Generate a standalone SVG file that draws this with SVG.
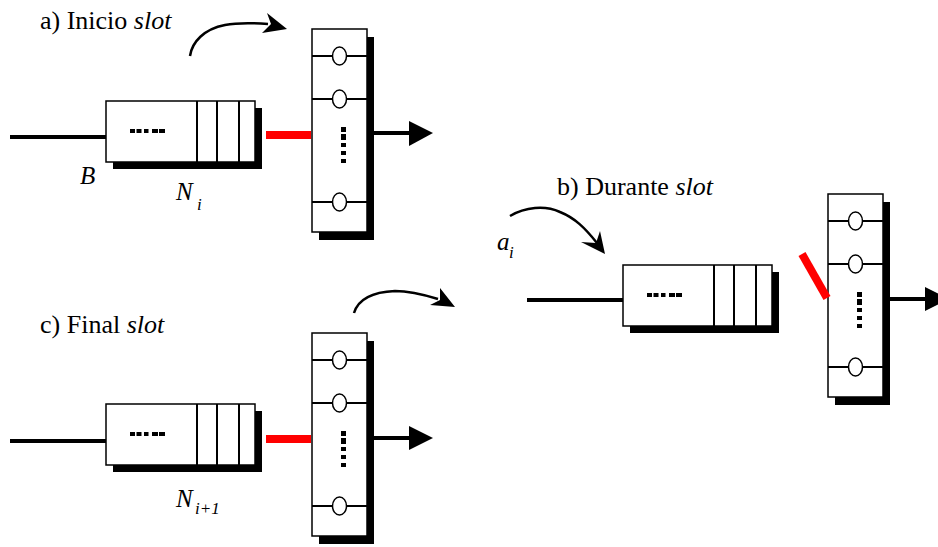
<svg xmlns="http://www.w3.org/2000/svg" width="938" height="547" viewBox="0 0 938 547">
<style>
.box{fill:#fff;stroke:#000;stroke-width:1.5}
.shadow{fill:#000}
.thin{stroke:#000;stroke-width:2;fill:none}
.wire{stroke:#000;stroke-width:4;fill:none}
.red{stroke:#f00;stroke-width:8;fill:none}
.curve{stroke:#000;stroke-width:2.5;fill:none}
</style>
<defs>
<g id="queue">
<rect class="shadow" x="7" y="7" width="149" height="61"/>
<rect class="box" x="0" y="0" width="149" height="61"/>
<line class="thin" x1="91" y1="0" x2="91" y2="61"/>
<line class="thin" x1="111" y1="0" x2="111" y2="61"/>
<line class="thin" x1="133" y1="0" x2="133" y2="61"/>
<rect x="24" y="28" width="5" height="4"/>
<rect x="30.5" y="28" width="5" height="4"/>
<rect x="38" y="28" width="4.5" height="4"/>
<rect x="46" y="28" width="6" height="4"/>
<rect x="53" y="28" width="6" height="4"/>
</g>
<g id="server">
<rect class="shadow" x="7" y="8" width="55" height="203"/>
<rect class="box" x="0" y="0" width="55" height="203"/>
<line class="thin" x1="0" y1="27" x2="55" y2="27"/>
<line class="thin" x1="0" y1="70" x2="55" y2="70"/>
<line class="thin" x1="0" y1="173" x2="55" y2="173"/>
<ellipse cx="27.5" cy="27" rx="7" ry="9" fill="#fff" stroke="#000" stroke-width="1.5"/>
<ellipse cx="27.5" cy="70" rx="7" ry="9" fill="#fff" stroke="#000" stroke-width="1.5"/>
<ellipse cx="27.5" cy="173" rx="7" ry="9" fill="#fff" stroke="#000" stroke-width="1.5"/>
<rect x="29" y="98" width="5" height="5"/>
<rect x="29" y="105" width="5" height="6"/>
<rect x="29" y="114" width="5" height="4"/>
<rect x="29" y="122" width="5" height="4"/>
<rect x="29" y="130" width="5" height="4"/>
</g>
</defs>

<g id="labels" font-family="Liberation Serif, Times New Roman, serif" fill="#000">
<text x="40" y="29" font-size="26">a) Inicio <tspan font-style="italic">slot</tspan></text>
<text x="80" y="184" font-size="25" font-style="italic">B</text>
<text x="176" y="200" font-size="25" font-style="italic">N</text>
<text x="197" y="210" font-size="17" font-style="italic">i</text>
<text x="557" y="195" font-size="26">b) Durante <tspan font-style="italic">slot</tspan></text>
<text x="497" y="250" font-size="25" font-style="italic">a</text>
<text x="509" y="258" font-size="17" font-style="italic">i</text>
<text x="40" y="333" font-size="26">c) Final <tspan font-style="italic">slot</tspan></text>
<text x="176" y="507" font-size="25" font-style="italic">N</text>
<text x="195" y="514" font-size="17" font-style="italic">i+1</text>
</g>

<g id="queue-a"><use href="#queue" x="106" y="101"/></g>
<g id="server-a"><use href="#server" x="312" y="29"/></g>
<g id="queue-b"><use href="#queue" x="623" y="265"/></g>
<g id="server-b"><use href="#server" x="828" y="194"/></g>
<g id="queue-c"><use href="#queue" x="106" y="404"/></g>
<g id="server-c"><use href="#server" x="312" y="333"/></g>

<g id="connectors">
<line class="wire" x1="10" y1="137" x2="106" y2="137"/>
<line class="red" x1="266" y1="135" x2="311" y2="135"/>
<line class="wire" x1="374" y1="133" x2="411" y2="133"/>
<polygon points="409,121 433,133 409,146"/>
<path class="curve" d="M190,56 C192,42 204,29 225,25 C240,22 255,23 268,24"/>
<polygon points="287,29 267,13 271,24 262,33"/>

<line class="wire" x1="527" y1="300" x2="623" y2="300"/>
<line class="red" x1="802" y1="254" x2="827" y2="298"/>
<line class="wire" x1="890" y1="299" x2="927" y2="299"/>
<polygon points="925,287 949,299 925,311"/>
<path class="curve" d="M510,216 C525,207 545,205 560,212 C575,218 585,228 597,243"/>
<polygon points="605,254 581,242 596,243 600,231"/>

<line class="wire" x1="10" y1="441" x2="106" y2="441"/>
<line class="red" x1="266" y1="439" x2="311" y2="439"/>
<line class="wire" x1="374" y1="438" x2="411" y2="438"/>
<polygon points="409,426 433,438 409,450"/>
<path class="curve" d="M354,313 C358,300 372,292 395,291 C410,291 425,295 438,299"/>
<polygon points="455,307 440,288 440,300 430,305"/>
</g>
</svg>
